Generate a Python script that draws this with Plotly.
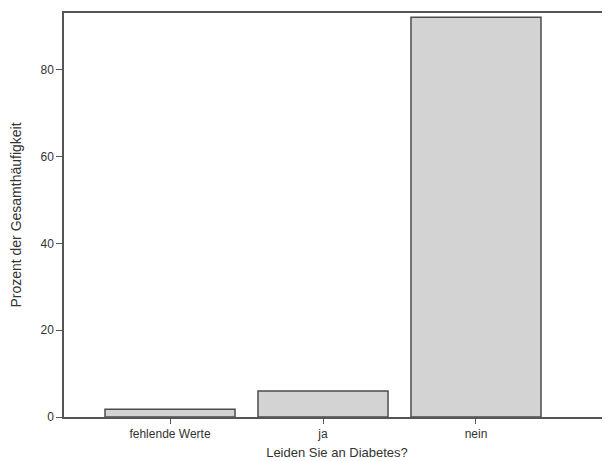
import plotly.graph_objects as go

categories = ["fehlende Werte", "ja", "nein"]
percent = [1.8, 6.0, 92.1]
y_ticks = [0, 20, 40, 60, 80]

fig = go.Figure(go.Bar(
    x=categories, y=percent, width=0.85,
    marker=dict(color="#d3d3d3", line=dict(color="#4d4d4d", width=1.5)),
))

fig.update_layout(
    width=602, height=453,
    margin=dict(l=56, r=0, t=5, b=44, autoexpand=False),
    paper_bgcolor="white", plot_bgcolor="white",
    font=dict(family="Liberation Sans, Arial, sans-serif", size=12, color="#333333"),
    showlegend=False,
    bargap=0.15,
)
fig.update_xaxes(
    range=[-0.693, 2.876], showline=True, mirror=True, linecolor="#555555", linewidth=1.5,
    ticks="outside", ticklen=5, tickcolor="#555555", showgrid=False,
    title=dict(text="Leiden Sie an Diabetes?", font=dict(size=13), standoff=8),
)
fig.update_yaxes(
    range=[0, 93.1], tickvals=y_ticks, showline=True, linecolor="#555555", linewidth=1.5,
    ticks="outside", ticklen=6, tickcolor="#555555", showgrid=False, zeroline=False,
    title=dict(text="Prozent der Gesamthäufigkeit", font=dict(size=14), standoff=18),
)

fig.write_html("out.html")
